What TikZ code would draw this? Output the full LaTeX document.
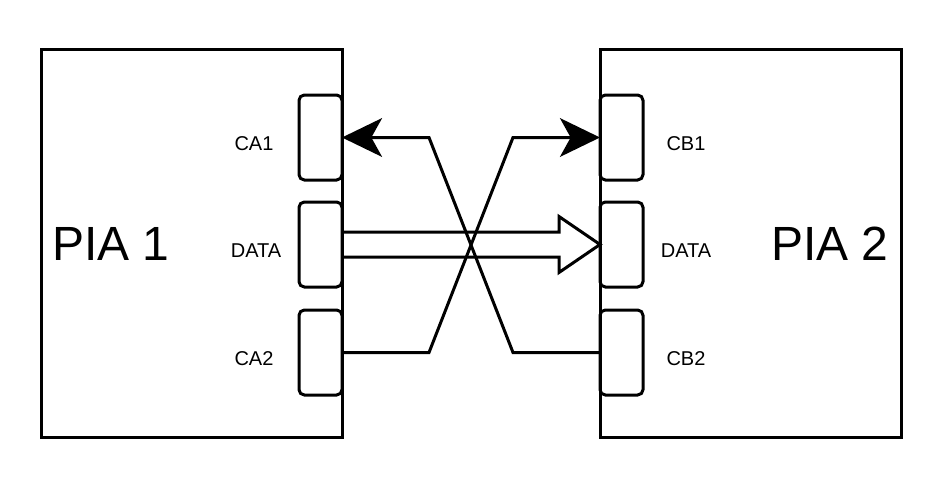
\documentclass[tikz,border=0pt]{standalone}
\usepackage{fontspec}
\setmainfont{Liberation Sans}
\usetikzlibrary{arrows.meta,calc}

\begin{document}
\begin{tikzpicture}[x=0.75pt,y=-0.75pt,line width=2.25pt,
  chip/.style={draw,minimum width=225.75pt,minimum height=290.25pt,inner sep=0pt,outer sep=0pt},
  port/.style={draw,rounded corners=4pt,minimum width=32.25pt,minimum height=63.75pt,inner sep=0pt,outer sep=0pt},
  portlabel/.style={font=\fontsize{15}{18}\selectfont},
  chiplabel/.style={font=\fontsize{36}{43}\selectfont},
  sig/.style={-{Stealth[length=30pt,width=29pt,inset=8pt]},line join=miter}]
\useasboundingbox (0,0) rectangle (938,492);

% 1
\node[chip] (PIA1) at (191.5,243.5) {};
\node[port] (CA1) at (320.5,137.5) {};
\node[port] (DATA1) at (320.5,244.5) {};
\node[port] (CA2) at (320.5,352.5) {};
\node[chiplabel] (PIA1label) at (111,243.5) {PIA 1};
\node[portlabel] at (254,143.5) {CA1};
\node[portlabel] at (256,251) {DATA};
\node[portlabel] at (254,358.5) {CA2};

% 2
\node[chip] (PIA2) at (750.5,243.5) {};
\node[port] (CB1) at (621.5,137.5) {};
\node[port] (DATA2) at (621.5,244.5) {};
\node[port] (CB2) at (621.5,352.5) {};
\node[chiplabel] (PIA2label) at (830,243.5) {PIA 2};
\node[portlabel] at (686,143.5) {CB1};
\node[portlabel] at (686,251) {DATA};
\node[portlabel] at (686,358.5) {CB2};

% crossed handshake lines
\draw[sig] (CB2.west) -- ++(-87,0) -- ($(CA1.east)+(87,0)$) -- (CA1.east);
\draw[sig] (CA2.east) -- ++(87,0) -- ($(CB1.west)+(-87,0)$) -- (CB1.west);

% data bus
\draw[line join=miter] ($(DATA1.east)+(0,-12.5)$) -- ($(DATA2.west)+(-41,-12.5)$)
  -- ($(DATA2.west)+(-41,-28)$) -- (DATA2.west) -- ($(DATA2.west)+(-41,28)$)
  -- ($(DATA2.west)+(-41,12.5)$) -- ($(DATA1.east)+(0,12.5)$);

\end{tikzpicture}
\end{document}
